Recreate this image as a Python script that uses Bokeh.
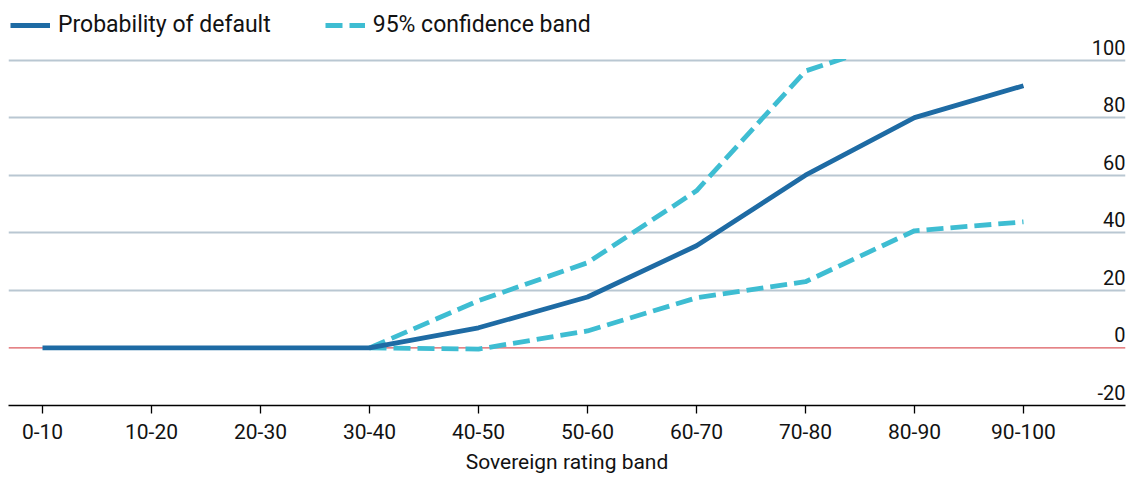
import numpy as np
from bokeh.plotting import figure
from bokeh.models import Range1d, FixedTicker, Label, Legend, LegendItem, Span, BoxAnnotation
from bokeh.embed import file_html
from bokeh.resources import INLINE

# ---- data ----
categories = ["0-10", "10-20", "20-30", "30-40", "40-50",
              "50-60", "60-70", "70-80", "80-90", "90-100"]
prob_default = [0, 0, 0, 0, 7.0, 17.7, 35.5, 60.0, 80.0, 91.1]
band_upper = [None, None, None, 0, 16.4, 29.6, 54.6, 96.2, 108.7, 118.0]
band_lower = [None, None, None, 0, -0.4, 5.9, 17.4, 23.0, 40.7, 43.8]
y_tick_values = [-20, 0, 20, 40, 60, 80, 100]
grid_values = [20, 40, 60, 80, 100]
series_names = ["Probability of default", "95% confidence band"]
y_max_shown = 100

FONT = "Roboto"
TEXT = "#121212"
BLUE = "#1e6ba4"
CYAN = "#3ebdd2"
DASH = "17 7"
LW = 4.8

xs = list(range(len(categories)))
up = np.array(band_upper, dtype=float)
lo = np.array(band_lower, dtype=float)

X0, X1 = -0.312, 9.936
p = figure(width=1126, height=480, output_backend="svg", toolbar_location=None,
           x_range=Range1d(X0, X1), y_range=Range1d(-20, 120.7),
           y_axis_location=None,
           min_border_left=8, min_border_right=1, min_border_top=0, min_border_bottom=75)
p.outline_line_color = None

p.xgrid.grid_line_color = None
p.ygrid.ticker = FixedTicker(ticks=grid_values)
p.ygrid.grid_line_color = "#b9c7d2"
p.ygrid.grid_line_width = 2

p.add_layout(Span(location=0, dimension="width", line_color="#dc5a5e",
                  line_width=1.3, level="underlay"))

r_lo = p.line(xs, lo, line_color=CYAN, line_width=LW, line_dash=DASH)
r_up = p.line(xs, up, line_color=CYAN, line_width=LW, line_dash=DASH)
r_pd = p.line(xs, prob_default, line_color=BLUE, line_width=LW)

# the chart area ends at 100: mask everything drawn above it
p.add_layout(BoxAnnotation(bottom=y_max_shown + 0.4, fill_color="white", fill_alpha=1,
                           line_color=None, level="annotation"))

ax = p.xaxis[0]
ax.ticker = FixedTicker(ticks=xs)
ax.major_label_overrides = {i: c for i, c in enumerate(categories)}
ax.minor_tick_line_color = None
ax.major_tick_in = 0
ax.major_tick_out = 8
ax.major_tick_line_color = "black"
ax.major_tick_line_width = 1.3
ax.axis_line_color = "black"
ax.axis_line_width = 1.5
ax.major_label_text_font = FONT
ax.major_label_text_font_size = "21px"
ax.major_label_text_color = TEXT
ax.major_label_standoff = 10
ax.axis_label = "Sovereign rating band"
ax.axis_label_text_font = FONT
ax.axis_label_text_font_size = "21px"
ax.axis_label_text_font_style = "normal"
ax.axis_label_text_color = TEXT
ax.axis_label_standoff = 8

for v in y_tick_values:
    p.add_layout(Label(x=X1, y=v, text=str(v), text_align="right",
                       text_baseline="alphabetic", y_offset=13,
                       text_font=FONT, text_font_size="20px", text_color=TEXT))

legend = Legend(items=[LegendItem(label=series_names[0], renderers=[r_pd]),
                       LegendItem(label=series_names[1], renderers=[r_up])],
                orientation="horizontal", location=(2, 367),
                border_line_color=None, background_fill_alpha=0,
                glyph_width=40, glyph_height=26, label_standoff=8, spacing=54,
                padding=0, margin=0,
                label_text_font=FONT, label_text_font_size="23px",
                label_text_color=TEXT)
p.add_layout(legend)

open("out.html", "w").write(file_html(p, INLINE))
